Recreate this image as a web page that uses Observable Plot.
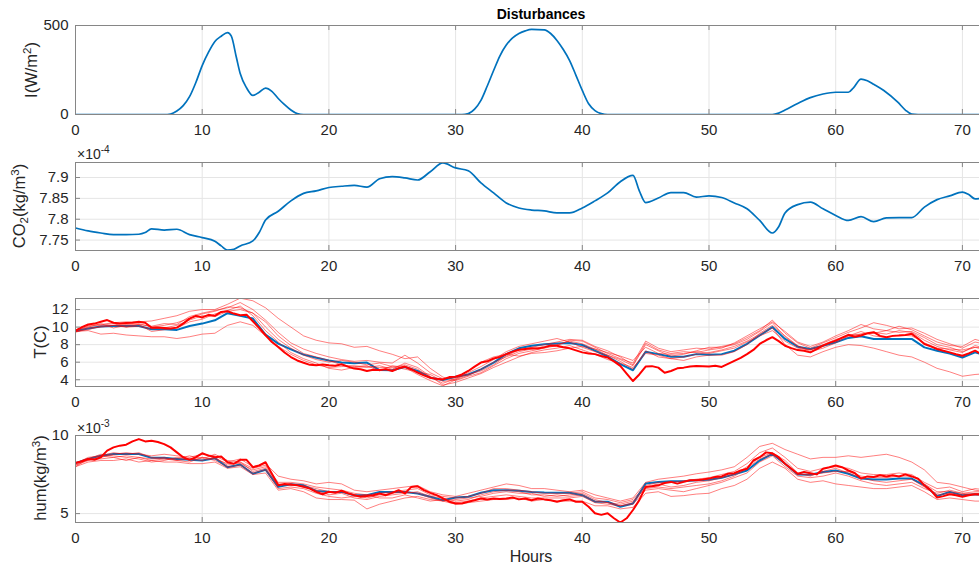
<!DOCTYPE html>
<html>
<head>
<meta charset="utf-8">
<script src="https://cdn.jsdelivr.net/npm/d3@7"></script>
<script src="https://cdn.jsdelivr.net/npm/@observablehq/plot@0.6"></script>
<style>
  body { margin: 0; background: #fff; }
  #fig { position: relative; width: 979px; height: 569px; overflow: hidden; background: #fff;
         font-family: "Liberation Sans", Arial, Helvetica, sans-serif; color: #262626; }
  .panel { position: absolute; left: 0; }
  .lab { position: absolute; white-space: nowrap; line-height: 1; }
  .ylab { font-size: 16.5px; transform: translate(-50%, -50%) rotate(-90deg); }
  .ylab sup { font-size: 0.7em; vertical-align: 0.55em; }
  .ylab sub { font-size: 0.7em; vertical-align: -0.25em; }
  .mult { font-size: 14px; }
  .mult sup { font-size: 0.72em; vertical-align: 0.6em; }
</style>
</head>
<body>
<div id="fig">
  <div class="lab" style="left:541px;top:14px;transform:translate(-50%,-50%);font-size:14px;font-weight:bold;color:#000">Disturbances</div>
  <div class="lab ylab" style="left:31px;top:70px">I(W/m<sup>2</sup>)</div>
  <div class="lab mult" style="left:77px;top:145px">×10<sup>-4</sup></div>
  <div class="lab ylab" style="left:20px;top:206px">CO<sub>2</sub>(kg/m<sup>3</sup>)</div>
  <div class="lab ylab" style="left:40px;top:342px">T(C)</div>
  <div class="lab mult" style="left:77px;top:419px">×10<sup>-3</sup></div>
  <div class="lab ylab" style="left:40px;top:478px">hum(kg/m<sup>3</sup>)</div>
  <div class="lab" style="left:531px;top:557px;transform:translate(-50%,-50%);font-size:16px">Hours</div>
</div>
<script>
// ---- Solar irradiance I (W/m²): hour, value ----
const irrHours = [0,7,7.5,8,8.5,9,9.5,10,10.5,11,11.5,12,12.3,12.7,13,13.5,14,14.5,15,15.5,16,16.5,17,17.5,18,
  30.5,31,31.5,32,32.5,33,33.5,34,34.5,35,35.5,36,37,37.5,38,38.5,39,39.5,40,40.5,41,41.5,42,
  55,55.5,56,57,58,59,60,61,61.4,62,62.5,63,63.8,64.9,65.5,66,66.5,72];
const irrValues = [0,0,3,20,50,100,180,275,350,410,440,460,440,320,230,150,107,125,148,130,90,55,25,5,0,
  0,5,30,79,160,247,330,390,430,455,470,478,475,455,416,365,303,220,135,60,22,5,0,
  0,8,25,62,95,115,125,125,150,199,190,170,135,69,25,2,0,0];

// ---- CO2 concentration (×10⁻⁴ kg/m³): hour, value ----
const co2Hours = [0,1,2,3,4,5,5.5,6,7,8,9,10,11,11.5,12,12.5,13,14,14.5,15,16,17,18,19,20,21,22,23,24,25,26,27,28,29,30,
  31,32,33,34,35,36,37,38,39,40,41,42,43,44,44.5,45,46,47,48,49,50,51,52,53,54,55,55.5,56,57,58,59,60,
  61,62,63,64,65,66,67,68,69,70,70.5,71,72];
const co2Values = [7.779,7.772,7.767,7.763,7.763,7.764,7.768,7.777,7.774,7.776,7.763,7.756,7.747,7.736,7.726,7.728,7.736,7.748,7.768,7.798,
  7.819,7.844,7.862,7.868,7.876,7.879,7.881,7.877,7.897,7.902,7.899,7.894,7.914,7.935,7.923,
  7.916,7.887,7.863,7.839,7.827,7.822,7.82,7.815,7.815,7.827,7.844,7.863,7.89,7.905,7.868,7.84,7.851,7.864,7.864,7.853,
  7.856,7.852,7.839,7.825,7.797,7.767,7.782,7.815,7.835,7.841,7.825,7.809,
  7.797,7.806,7.794,7.803,7.804,7.804,7.829,7.847,7.856,7.865,7.859,7.849,7.853];

// ---- Temperature (C): hourly nominal (blue), half-hourly realisation (thick red), hourly scenarios (thin red) ----
const tempNominal = [
  9.56,9.83,10.06,10.13,10.13,10.13,9.75,9.75,9.68,10.13,
  10.4,10.78,11.58,11.28,10.97,9.14,8.11,7.47,6.86,6.51,
  6.2,5.96,5.88,5.96,5.1,5.08,5.46,5.0,4.23,3.96,
  4.35,4.6,5.19,5.96,6.92,7.58,7.88,8.04,8.12,8.19,
  7.96,7.31,6.65,5.77,5.08,7.19,6.92,6.62,6.62,6.92,
  6.85,6.92,7.31,8.08,9.04,10.0,8.65,7.77,7.5,7.88,
  8.27,8.77,8.96,8.65,8.65,8.65,8.65,7.69,7.31,7.0,
  6.54,7.12,6.7];
const tempMain = [
  9.56,10.0,10.3,10.4,10.6,10.8,10.5,10.4,10.48,10.5,
  10.6,10.5,9.94,9.95,9.9,9.85,9.94,10.4,10.97,11.28,
  11.1,11.4,11.28,11.73,11.81,11.54,11.35,11.4,10.67,9.9,
  9.07,8.3,7.73,7.1,6.59,6.2,5.94,5.7,5.64,5.75,
  5.65,5.6,5.77,5.5,5.27,5.2,5.0,5.15,5.1,5.2,
  5.0,5.3,5.5,5.2,4.81,4.5,4.23,4.1,4.04,4.3,
  4.35,4.6,5.0,5.5,5.96,6.1,6.42,6.6,6.92,7.2,
  7.42,7.5,7.58,7.55,7.69,7.9,7.88,7.7,7.58,7.35,
  7.12,7.0,6.92,6.7,6.54,6.1,5.58,4.7,3.85,4.6,
  5.5,5.55,5.38,4.8,5.0,5.3,5.38,5.5,5.58,5.55,
  5.5,5.6,5.46,5.8,6.15,6.5,6.92,7.4,8.08,8.5,
  8.85,8.4,7.88,7.6,7.38,7.3,7.12,7.5,7.88,8.2,
  8.46,8.8,9.12,8.9,9.04,9.3,9.42,9.0,8.85,9.0,
  9.04,9.1,9.23,8.7,8.08,7.8,7.5,7.3,7.12,6.9,
  6.73,7.0,7.31,6.9,6.8];
const tempRun1 = [
  9.7,10.2,10.3,10.5,10.6,10.6,10.7,11.0,11.3,11.8,
  12.0,12.0,12.6,13.3,13.0,12.2,11.0,10.0,9.0,8.5,
  8.2,8.1,7.7,7.8,7.3,6.9,6.4,6.6,5.3,4.3,
  3.9,4.4,4.8,5.6,6.4,7.0,7.3,7.6,7.9,8.5,
  8.4,7.7,7.0,6.4,5.9,8.4,7.6,7.2,7.4,7.6,
  7.5,7.8,8.1,8.8,9.6,10.8,9.3,8.2,7.6,8.2,
  8.8,9.4,9.9,10.5,10.2,9.8,9.9,9.3,8.6,8.1,
  7.6,8.3,8.0];
const tempRun2 = [
  9.5,9.6,9.2,9.3,9.1,9.0,8.9,8.9,8.7,8.9,
  9.2,9.3,10.2,10.6,10.2,9.0,7.8,6.9,6.2,5.7,
  5.4,5.5,5.6,5.4,5.6,5.2,5.9,5.4,4.4,3.4,
  3.7,4.2,4.7,5.4,6.0,6.6,7.1,7.4,7.6,7.9,
  7.4,6.9,6.3,5.9,5.4,7.0,6.8,6.4,6.6,6.9,
  7.1,7.4,7.8,8.4,9.2,9.9,8.0,6.8,6.6,7.2,
  7.7,8.0,7.9,7.6,7.2,6.8,6.6,6.0,5.3,4.9,
  4.4,4.6,4.7];
const tempRun3 = [
  9.4,9.9,10.0,10.2,10.3,10.4,10.0,10.2,10.5,11.0,
  11.5,11.8,12.3,12.2,11.6,10.0,8.6,7.6,6.8,6.3,
  6.0,6.2,6.0,5.7,5.9,5.5,5.2,4.9,4.6,3.8,
  4.0,4.8,5.5,6.3,7.2,7.8,8.1,8.4,8.7,8.3,
  7.7,7.2,6.8,6.3,5.6,8.0,7.3,6.7,6.9,7.3,
  7.7,7.7,8.0,8.6,9.5,10.5,8.9,7.8,7.4,7.9,
  8.4,9.1,9.2,9.3,9.6,9.4,9.5,8.8,8.0,7.7,
  7.2,7.7,7.6];
const tempRun4 = [
  9.6,10.0,10.4,9.9,10.2,10.3,9.5,9.7,9.9,10.6,
  10.9,11.5,11.9,12.4,11.3,9.6,8.3,7.1,6.4,5.9,
  5.3,5.1,5.4,5.5,5.4,5.4,5.7,5.2,4.3,3.6,
  4.1,5.0,6.0,6.6,6.9,6.7,7.0,7.1,7.3,7.6,
  7.8,7.5,7.1,6.7,6.2,7.7,7.0,6.9,7.0,7.2,
  7.0,7.3,7.6,8.3,9.0,9.6,8.4,7.6,7.4,8.0,
  8.6,8.9,9.2,9.4,9.2,9.6,9.4,8.5,7.8,7.4,
  7.1,7.9,7.5];
const tempRun5 = [
  9.5,9.7,10.1,10.2,10.0,10.1,9.8,9.9,10.2,10.8,
  11.3,11.2,11.8,12.0,11.6,10.6,9.0,7.9,7.0,6.6,
  6.2,5.7,5.5,5.6,5.0,5.6,5.4,4.6,3.9,3.3,
  4.0,4.5,5.2,6.0,6.6,7.2,7.5,7.8,8.0,8.4,
  8.1,7.5,6.8,6.1,5.2,7.3,6.6,6.4,6.2,6.6,
  6.8,6.8,7.2,8.0,9.3,10.2,9.0,7.9,7.2,7.6,
  8.2,9.0,9.5,9.0,8.8,9.1,9.0,8.2,7.6,7.5,
  7.4,7.7,7.3];
const tempRun6 = [
  9.6,10.1,10.2,10.4,10.0,10.3,10.1,10.4,10.3,11.2,
  11.6,11.9,12.2,12.8,12.0,10.8,9.4,8.2,7.5,7.0,
  6.6,6.3,6.1,6.2,6.0,5.9,6.8,5.9,4.8,4.1,
  4.2,4.6,5.0,5.7,6.7,7.4,7.7,8.0,8.3,8.6,
  8.5,7.8,7.3,6.6,5.7,8.2,7.4,7.0,7.2,7.1,
  7.4,7.6,8.2,9.0,9.8,10.6,9.5,8.3,7.8,8.3,
  9.0,9.6,10.3,9.8,9.6,10.1,9.7,9.0,8.3,7.9,
  7.8,8.6,8.2];

// ---- Humidity (×10⁻³ kg/m³) ----
const humNominal = [
  8.23,8.5,8.71,8.82,8.82,8.82,8.57,8.57,8.5,8.44,
  8.4,8.55,7.97,8.14,7.55,7.81,6.71,6.88,6.81,6.45,
  6.4,6.39,6.18,6.18,6.39,6.39,6.39,6.29,6.08,5.86,
  6.03,6.08,6.33,6.5,6.5,6.46,6.39,6.35,6.33,6.33,
  6.18,5.76,5.76,5.44,5.65,6.92,7.03,7.07,7.07,7.13,
  7.17,7.3,7.51,7.76,8.4,8.82,8.19,7.51,7.49,7.66,
  7.76,7.55,7.24,7.19,7.19,7.24,7.24,6.81,6.12,6.39,
  6.18,6.24,6.2];
const humMain = [
  8.23,8.35,8.5,8.45,8.61,9.03,9.24,9.35,9.41,9.62,
  9.77,9.62,9.66,9.58,9.45,9.24,8.92,8.61,8.44,8.61,
  8.86,8.71,8.61,8.65,8.29,8.19,8.44,8.44,7.97,8.08,
  8.29,7.55,6.81,6.9,6.86,6.81,6.71,6.6,6.39,6.24,
  6.4,6.33,6.46,6.3,6.18,6.08,6.12,6.18,6.29,6.18,
  6.33,6.5,6.29,6.71,6.75,6.5,6.33,6.18,5.97,5.76,
  5.65,5.65,5.76,5.86,5.97,5.9,5.97,5.93,5.97,6.03,
  5.91,5.97,5.86,5.97,5.91,5.86,5.76,5.86,5.91,5.76,
  5.76,5.44,5.02,4.92,5.02,4.7,4.43,4.7,5.23,5.86,
  6.71,6.75,6.81,6.96,7.03,6.92,7.03,7.13,7.13,7.18,
  7.24,7.34,7.38,7.55,7.59,7.76,7.87,8.4,8.61,8.92,
  8.86,8.61,8.19,7.87,7.55,7.66,7.59,7.51,7.87,7.97,
  8.08,7.97,7.76,7.6,7.24,7.38,7.34,7.45,7.38,7.45,
  7.38,7.51,7.38,7.24,6.81,6.5,6.03,6.12,6.24,6.18,
  6.08,6.18,6.24,6.24,6.24];
const humRun1 = [
  8.1,8.4,8.6,8.8,8.9,8.8,8.7,8.8,8.7,8.6,
  8.8,8.7,8.3,8.5,8.0,8.2,7.4,7.2,7.1,6.9,
  7.0,6.9,6.5,6.4,6.5,6.6,6.7,6.8,6.4,6.2,
  6.1,6.3,6.5,6.7,6.9,6.8,6.6,6.6,6.5,6.4,
  6.5,6.2,6.0,5.8,6.0,7.0,7.2,7.3,7.4,7.55,
  7.66,7.8,8.0,8.6,9.3,9.5,9.1,8.8,8.5,8.6,
  8.6,8.7,8.6,8.7,8.8,8.6,8.3,7.8,7.0,6.9,
  6.7,6.5,6.4];
const humRun2 = [
  8.0,8.3,8.4,8.4,8.5,8.3,8.4,8.3,8.3,8.2,
  8.2,8.3,7.9,8.0,7.5,7.6,6.5,6.6,6.4,6.0,
  5.9,5.9,5.86,5.3,5.6,5.8,6.0,6.1,5.9,5.8,
  5.6,5.7,5.8,5.9,5.9,6.0,5.8,5.9,5.8,5.8,
  5.8,5.5,5.5,5.3,5.4,6.3,6.4,6.1,6.15,6.25,
  6.3,6.6,6.8,7.2,7.9,8.3,7.9,7.2,7.0,7.1,
  6.9,6.8,6.7,6.6,6.6,6.7,6.8,6.4,5.9,6.0,
  5.9,5.8,5.8];
const humRun3 = [
  8.2,8.6,8.7,8.6,8.7,8.6,8.5,8.6,8.4,8.5,
  8.4,8.6,8.1,8.3,7.7,7.9,6.8,6.9,6.7,6.5,
  6.2,6.3,6.0,5.9,6.1,6.2,6.3,6.4,6.1,6.0,
  5.8,5.9,6.2,6.4,6.5,6.4,6.2,6.2,6.1,6.2,
  6.3,5.9,5.7,5.5,5.7,6.7,6.9,6.7,6.8,7.0,
  7.1,7.3,7.5,8.0,8.6,8.9,8.4,7.6,7.4,7.7,
  7.9,7.6,7.3,7.1,7.0,7.1,7.2,6.7,6.2,6.3,
  6.2,6.3,6.3];
const humRun4 = [
  8.1,8.5,8.8,8.7,8.6,8.5,8.3,8.4,8.6,8.5,
  8.6,8.4,8.0,8.1,7.6,7.8,6.6,6.7,6.6,6.3,
  6.1,6.0,6.1,6.2,6.0,6.0,6.2,6.0,5.8,5.9,
  5.7,5.8,6.0,6.1,6.2,6.1,6.0,6.0,6.0,6.0,
  6.1,5.7,5.6,5.5,5.6,6.5,6.6,6.5,6.4,6.6,
  6.8,7.0,7.3,7.6,8.3,8.7,8.0,7.4,7.3,7.4,
  7.6,7.4,7.1,6.9,6.8,6.9,7.0,6.6,6.3,6.5,
  6.3,6.2,6.1];
const humRun5 = [
  8.3,8.4,8.7,8.9,8.8,8.9,8.6,8.5,8.5,8.7,
  8.5,8.8,8.4,8.3,7.9,8.1,7.0,7.0,6.9,6.7,
  6.6,6.5,6.3,6.2,6.3,6.4,6.5,6.6,6.2,6.1,
  6.0,6.1,6.3,6.6,6.6,6.5,6.4,6.3,6.3,6.3,
  6.4,6.0,5.9,5.7,5.9,6.8,7.0,7.0,7.1,7.2,
  7.3,7.5,7.7,8.2,8.9,9.2,8.6,7.9,7.7,7.9,
  8.0,7.9,7.6,7.5,7.5,7.6,7.5,7.0,6.6,6.7,
  6.4,6.6,6.5];
const humRun6 = [
  8.0,8.5,8.5,8.6,8.4,8.6,8.4,8.5,8.4,8.3,
  8.6,8.5,8.2,8.2,7.8,8.0,6.9,6.8,6.8,6.6,
  6.4,6.4,6.2,6.0,6.2,6.3,6.4,6.3,6.0,5.8,
  5.9,6.0,6.1,6.3,6.4,6.3,6.3,6.1,6.2,6.1,
  6.2,5.8,5.7,5.6,5.8,6.6,6.7,6.6,6.7,6.8,
  6.9,7.1,7.4,7.9,8.5,8.8,8.2,7.5,7.5,7.6,
  7.7,7.7,7.4,7.3,7.3,7.4,7.4,6.9,6.4,6.4,
  6.3,6.4,6.4];

// ---- Axis ticks ----
const hourTicks = [0, 10, 20, 30, 40, 50, 60, 70];
const irrTicks = [0, 500];
const co2Ticks = [7.75, 7.8, 7.85, 7.9];
const tempTicks = [4, 6, 8, 10, 12];
const humTicks = [5, 10];

// ---- Tables for the marks ----
const hourly = d3.range(0, 73);
const halfHourly = d3.range(0, 145).map(i => i / 2);
const zip = (xs, ys, run) => ys.map((v, i) => ({hour: xs[i], value: v, run}));

const irr = zip(irrHours, irrValues, "I");
const co2 = zip(co2Hours, co2Values, "CO2");
const tempRuns = [tempRun1, tempRun2, tempRun3, tempRun4, tempRun5, tempRun6]
  .flatMap((r, k) => zip(hourly, r, "run" + k));
const humRuns = [humRun1, humRun2, humRun3, humRun4, humRun5, humRun6]
  .flatMap((r, k) => zip(hourly, r, "run" + k));

// ---- Layout and styling ----
const W = 979, ML = 75, PANEL_H = 137;
const xDomain = [0, 71.35];
const fontFamily = '"Liberation Sans", Arial, Helvetica, sans-serif';
const axisColor = "#868686";
const gridColor = "#e5e5e5";
const blue = "#0072BD", red = "#ff0000";
const fig = document.getElementById("fig");

function panel({top, mt, mb, yDomain, yTicks, marks}) {
  const plotH = PANEL_H - mt - mb, plotW = W - ML;
  const svg = Plot.plot({
    width: W, height: PANEL_H,
    marginLeft: ML, marginRight: 0, marginTop: mt, marginBottom: mb,
    style: {fontFamily, fontSize: "15px", color: "#262626", background: "none", overflow: "visible"},
    x: {domain: xDomain, ticks: hourTicks, tickSize: 0, tickPadding: 10, tickFormat: d => String(d), label: null},
    y: {domain: yDomain, ticks: yTicks, tickSize: 0, tickPadding: 7, tickFormat: d => String(d), label: null},
    marks: [
      Plot.ruleX(hourTicks, {x: d => d, stroke: gridColor}),
      Plot.ruleY(yTicks, {y: d => d, stroke: gridColor}),
      ...marks,
      // axes box (right side falls outside the view) and inward tick marks
      Plot.ruleY(yDomain, {y: d => d, stroke: axisColor}),
      Plot.ruleX([xDomain[0]], {x: d => d, stroke: axisColor}),
      Plot.tickX(hourTicks, {x: d => d, stroke: axisColor, insetTop: plotH - 5}),
      Plot.tickX(hourTicks, {x: d => d, stroke: axisColor, insetBottom: plotH - 5}),
      Plot.tickY(yTicks, {y: d => d, stroke: axisColor, insetRight: plotW - 5})
    ]
  });
  const div = document.createElement("div");
  div.className = "panel";
  div.style.top = top + "px";
  div.appendChild(svg);
  fig.insertBefore(div, fig.firstChild);
}

// Solar irradiance
panel({
  top: 0, mt: 25, mb: 23, yDomain: [0, 500], yTicks: irrTicks,
  marks: [Plot.line(irr, {x: "hour", y: "value", stroke: blue, strokeWidth: 1.7, curve: "monotone-x", clip: true})]
});

// CO2
panel({
  top: 137, mt: 25, mb: 24, yDomain: [7.725, 7.936], yTicks: co2Ticks,
  marks: [Plot.line(co2, {x: "hour", y: "value", stroke: blue, strokeWidth: 1.7, curve: "monotone-x", clip: true})]
});

// Temperature
panel({
  top: 273, mt: 25, mb: 24, yDomain: [3.23, 13.26], yTicks: tempTicks,
  marks: [
    Plot.line(zip(hourly, tempNominal, "nom"), {x: "hour", y: "value", stroke: blue, strokeWidth: 2, clip: true}),
    Plot.line(tempRuns, {x: "hour", y: "value", z: "run", stroke: red, strokeOpacity: 0.5, strokeWidth: 1, clip: true}),
    Plot.line(zip(halfHourly, tempMain, "main"), {x: "hour", y: "value", stroke: red, strokeWidth: 2, clip: true})
  ]
});

// Humidity
panel({
  top: 410, mt: 25, mb: 25, yDomain: [4.43, 10], yTicks: humTicks,
  marks: [
    Plot.line(zip(hourly, humNominal, "nom"), {x: "hour", y: "value", stroke: blue, strokeWidth: 2, clip: true}),
    Plot.line(humRuns, {x: "hour", y: "value", z: "run", stroke: red, strokeOpacity: 0.5, strokeWidth: 1, clip: true}),
    Plot.line(zip(halfHourly, humMain, "main"), {x: "hour", y: "value", stroke: red, strokeWidth: 2, clip: true})
  ]
});
</script>
</body>
</html>
